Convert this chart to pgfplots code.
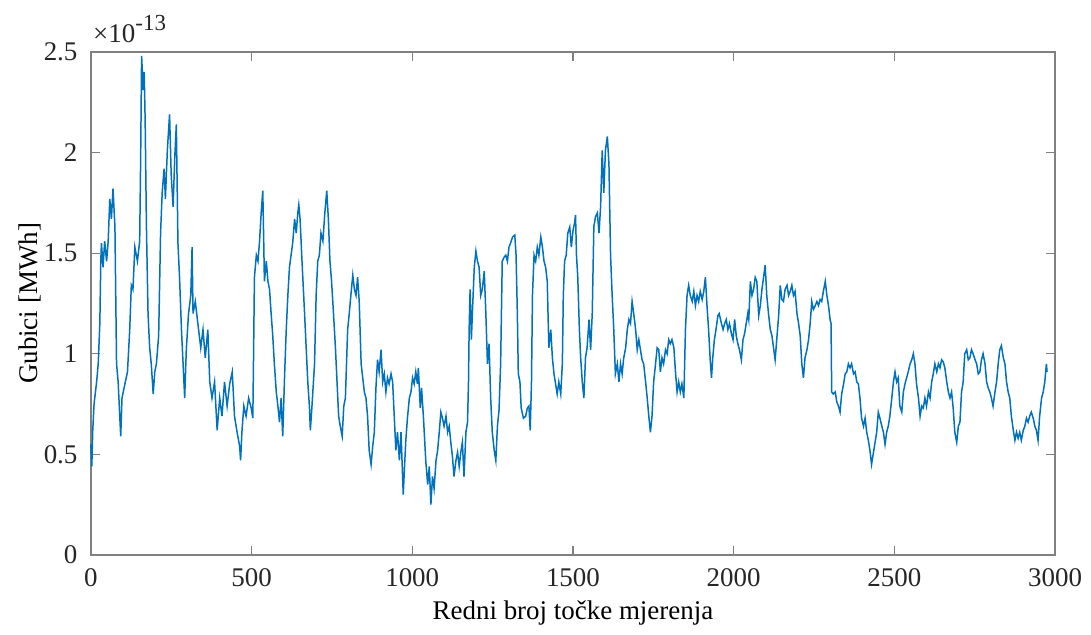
\documentclass[border=0pt]{standalone}
\usepackage{fontspec}
\setmainfont{Liberation Serif}
\usepackage{pgfplots}
\pgfplotsset{compat=1.18}

\definecolor{mblue}{rgb}{0,0.447,0.741}
\definecolor{axgray}{rgb}{0.5,0.5,0.5}
\definecolor{txt}{rgb}{0.15,0.15,0.15}

\begin{document}
\fontsize{13.5pt}{16pt}\selectfont
\begin{tikzpicture}
\begin{axis}[
    scale only axis,
    width=483pt, height=252pt,
    xmin=0, xmax=3000,
    ymin=0, ymax=2.5,
    xtick={0,500,1000,1500,2000,2500,3000},
    ytick={0,0.5,1,1.5,2,2.5},
    yticklabels={0,0.5,1,1.5,2,2.5},
    scaled x ticks=false,
    /pgf/number format/1000 sep={},
    /pgf/number format/assume math mode=true,
    tick align=inside,
    major tick length=4.5pt,
    axis line style={axgray, line width=0.7pt},
    tick style={axgray, line width=0.6pt},
    ticklabel style={font=\fontsize{13.5pt}{16pt}\selectfont, text=txt},
    yticklabel style={anchor=east, xshift=-2pt},
    xticklabel style={anchor=north, yshift=-2pt},
    label style={font=\fontsize{13.5pt}{16pt}\selectfont, text=txt},
    every axis x label/.style={at={(axis description cs:0.5,-0.115)}, anchor=center},
    every axis y label/.style={at={(axis description cs:-0.063,0.5)}, rotate=90, anchor=center},
    xlabel={Redni broj točke mjerenja},
    ylabel={Gubici [MWh]},
    clip=false,
]
% values in units of 1e-13 MWh
\addplot[color=mblue, line width=0.75pt] coordinates {
(0,0.55) (3,0.44) (6,0.62) (10,0.75) (18,0.86) (23,0.95) (28,1.15) (31,1.46) (33,1.55) (38,1.43)
(43,1.56) (49,1.46) (54,1.56) (59,1.77) (64,1.67) (69,1.82) (75,1.63) (80,0.95) (85,0.86) (90,0.69)
(93,0.59) (97,0.78) (106,0.85) (114,0.91) (121,1.12) (126,1.34) (131,1.32) (137,1.53) (145,1.46) (152,1.56)
(155,1.97) (158,2.48) (163,2.31) (166,2.40) (169,2.16) (173,1.63) (178,1.20) (183,1.03) (188,0.95) (194,0.80)
(199,0.91) (204,0.95) (211,1.09) (217,1.60) (222,1.80) (228,1.92) (232,1.77) (238,2.01) (245,2.19) (250,1.89)
(256,1.73) (261,1.97) (266,2.14) (271,1.55) (276,1.38) (282,1.12) (287,0.95) (292,0.78) (297,1.02) (304,1.20)
(311,1.29) (315,1.53) (318,1.20) (325,1.26) (333,1.15) (342,1.03) (349,1.12) (356,0.98) (364,1.12) (370,0.86)
(377,0.78) (385,0.86) (393,0.62) (401,0.78) (408,0.69) (416,0.86) (424,0.74) (432,0.85) (440,0.91) (447,0.69)
(455,0.61) (463,0.54) (466,0.47) (470,0.61) (476,0.74) (483,0.69) (491,0.78) (499,0.73) (504,0.68)
(506,0.95) (509,1.38) (515,1.49) (520,1.46) (525,1.56) (530,1.70) (535,1.81) (538,1.55) (540,1.36) (546,1.46)
(551,1.36) (556,1.32) (561,1.20) (566,1.09) (571,0.95) (577,0.81) (582,0.74) (587,0.66) (592,0.78) (597,0.59)
(603,0.90) (608,1.12) (613,1.29) (618,1.43) (623,1.49) (628,1.55) (634,1.67) (639,1.60) (644,1.70) (647,1.74)
(651,1.67) (657,1.46) (665,1.20) (670,1.03) (675,0.86) (680,0.74) (683,0.62) (688,0.74) (696,0.95) (701,1.29)
(706,1.46) (711,1.49) (716,1.60) (722,1.56) (728,1.70) (734,1.81) (739,1.67) (744,1.46) (749,1.36) (755,1.20)
(761,1.03) (766,0.86) (771,0.69) (776,0.64) (782,0.59) (787,0.74) (792,0.78) (799,1.12) (804,1.20) (809,1.29)
(815,1.39) (820,1.32) (825,1.29) (830,1.38) (835,1.26) (841,0.95) (846,0.88) (851,0.81) (856,0.78) (861,0.69)
(866,0.52) (872,0.45) (877,0.54) (882,0.61) (887,0.83) (892,0.97) (897,0.91) (903,1.02) (908,0.86) (913,0.90)
(918,0.81) (923,0.88) (928,0.85) (934,0.90) (939,0.86) (944,0.69) (949,0.52) (954,0.61) (960,0.47) (965,0.61)
(970,0.39) (972,0.30) (976,0.44) (980,0.57) (985,0.68) (991,0.78) (996,0.81) (1001,0.88) (1006,0.85) (1011,0.91)
(1016,0.85) (1019,0.93) (1025,0.73) (1029,0.83) (1035,0.68) (1042,0.47) (1048,0.35) (1053,0.44) (1058,0.25) (1063,0.39)
(1068,0.33) (1074,0.47) (1079,0.52) (1084,0.61) (1089,0.71) (1094,0.68) (1099,0.64) (1105,0.69) (1110,0.61) (1115,0.64)
(1120,0.56) (1125,0.49) (1130,0.39) (1136,0.47) (1141,0.51) (1146,0.44) (1151,0.51) (1156,0.56) (1161,0.39) (1167,0.61)
(1172,0.66) (1175,0.86) (1177,1.12) (1180,1.32) (1184,1.07) (1187,1.20) (1193,1.43) (1198,1.51) (1203,1.46) (1208,1.43)
(1213,1.29) (1218,1.32) (1224,1.41) (1229,1.20) (1234,0.95) (1239,1.05) (1244,0.78) (1249,0.61) (1255,0.52) (1260,0.47)
(1265,0.64) (1270,0.72) (1275,0.95) (1280,1.46) (1286,1.48) (1291,1.49) (1296,1.46) (1301,1.53) (1306,1.55) (1312,1.58)
(1319,1.59) (1323,1.49) (1327,1.20) (1330,0.90) (1335,0.86) (1339,0.73) (1346,0.68) (1353,0.69) (1358,0.73) (1363,0.74)
(1367,0.62) (1371,0.86) (1374,1.29) (1379,1.49) (1384,1.46) (1389,1.53) (1394,1.49) (1400,1.58) (1405,1.53) (1410,1.46)
(1415,1.43) (1420,1.36) (1425,1.03) (1431,1.12) (1436,0.98) (1441,0.90) (1446,0.85) (1451,0.80) (1456,0.86) (1462,0.80)
(1467,0.95) (1470,1.29) (1474,1.46) (1479,1.49) (1484,1.60) (1490,1.63) (1495,1.53) (1500,1.61) (1505,1.65) (1508,1.69)
(1511,1.49) (1515,1.38) (1520,1.12) (1524,0.98) (1529,0.86) (1534,0.78) (1539,0.98) (1544,1.03) (1550,1.17) (1555,1.02)
(1560,1.20) (1565,1.63) (1570,1.68) (1576,1.70) (1581,1.60) (1586,1.73) (1591,2.01) (1596,1.80) (1601,2.01) (1607,2.08)
(1612,1.94) (1617,1.49) (1622,1.29) (1627,1.12) (1632,0.90) (1638,0.95) (1643,0.86) (1648,0.95) (1653,0.90) (1658,0.98)
(1664,1.03) (1669,1.12) (1674,1.17) (1679,1.15) (1684,1.26) (1689,1.20) (1695,1.12) (1700,1.02) (1705,1.07) (1710,1.02)
(1715,0.97) (1720,0.95) (1726,0.86) (1731,0.78) (1736,0.69) (1741,0.61) (1746,0.69) (1751,0.86) (1757,0.95) (1762,1.03)
(1767,1.02) (1772,0.91) (1777,0.98) (1782,0.95) (1788,1.02) (1793,1.00) (1798,1.07) (1803,1.05) (1808,1.07) (1814,1.03)
(1819,0.91) (1824,0.81) (1829,0.86) (1834,0.81) (1839,0.85) (1845,0.78) (1850,1.12) (1855,1.29) (1860,1.34) (1865,1.29)
(1871,1.26) (1876,1.31) (1881,1.24) (1886,1.29) (1891,1.26) (1896,1.31) (1902,1.27) (1907,1.31) (1912,1.38) (1917,1.24)
(1922,1.12) (1927,0.97) (1931,0.88) (1935,0.98) (1940,1.07) (1945,1.12) (1951,1.19) (1955,1.20) (1962,1.15) (1967,1.12)
(1972,1.15) (1977,1.17) (1982,1.12) (1987,1.15) (1993,1.10) (1998,1.07) (2003,1.17) (2008,1.09) (2013,1.05) (2018,1.02)
(2024,0.97) (2029,1.07) (2034,1.10) (2039,1.15) (2044,1.20) (2047,1.17) (2052,1.36) (2057,1.29) (2062,1.32) (2067,1.38)
(2072,1.36) (2078,1.19) (2083,1.24) (2088,1.32) (2093,1.38) (2098,1.44) (2103,1.29) (2109,1.19) (2114,1.12) (2119,1.09)
(2124,1.03) (2129,0.97) (2135,1.09) (2140,1.19) (2145,1.34) (2150,1.27) (2155,1.26) (2160,1.32) (2166,1.34) (2171,1.29)
(2176,1.31) (2181,1.34) (2186,1.29) (2191,1.31) (2197,1.20) (2202,1.15) (2207,1.09) (2212,0.95) (2217,0.88) (2222,0.98)
(2228,1.02) (2233,1.07) (2238,1.15) (2243,1.26) (2248,1.22) (2254,1.24) (2259,1.26) (2264,1.24) (2269,1.27) (2274,1.26)
(2279,1.31) (2285,1.36) (2290,1.29) (2295,1.24) (2300,1.17) (2303,1.15) (2305,0.81) (2310,0.80) (2316,0.81) (2321,0.76)
(2326,0.74) (2331,0.71) (2336,0.80) (2342,0.85) (2347,0.90) (2352,0.91) (2357,0.95) (2362,0.93) (2367,0.95) (2373,0.90)
(2378,0.91) (2383,0.86) (2388,0.85) (2393,0.78) (2398,0.68) (2404,0.64) (2409,0.68) (2414,0.61) (2419,0.57) (2424,0.52)
(2429,0.45) (2435,0.51) (2440,0.56) (2445,0.61) (2450,0.71) (2455,0.68) (2461,0.64) (2466,0.61) (2471,0.55) (2476,0.61)
(2481,0.64) (2486,0.69) (2492,0.78) (2497,0.86) (2502,0.91) (2507,0.86) (2512,0.88) (2517,0.74) (2523,0.71) (2528,0.81)
(2533,0.85) (2538,0.88) (2543,0.91) (2549,0.95) (2554,0.97) (2559,1.00) (2564,0.95) (2569,0.85) (2575,0.78) (2580,0.69)
(2585,0.74) (2590,0.73) (2595,0.78) (2600,0.74) (2606,0.81) (2611,0.78) (2616,0.86) (2621,0.90) (2626,0.95) (2632,0.91)
(2637,0.95) (2642,0.93) (2647,0.97) (2652,0.96) (2657,0.93) (2663,0.86) (2668,0.81) (2673,0.78) (2678,0.81) (2683,0.73)
(2688,0.61) (2694,0.56) (2699,0.64) (2704,0.66) (2709,0.81) (2714,0.86) (2719,1.00) (2725,1.02) (2730,0.97) (2735,0.98)
(2740,1.02) (2745,1.00) (2751,0.97) (2756,0.95) (2761,0.90) (2766,0.91) (2771,0.97) (2776,1.00) (2782,0.95) (2787,0.86)
(2792,0.83) (2797,0.81) (2802,0.78) (2807,0.74) (2813,0.81) (2818,0.86) (2823,0.95) (2828,1.02) (2833,1.04) (2839,0.98)
(2844,0.95) (2849,0.86) (2854,0.81) (2859,0.78) (2864,0.69) (2870,0.62) (2875,0.57) (2880,0.61) (2885,0.58) (2890,0.61)
(2895,0.57) (2901,0.62) (2906,0.64) (2911,0.68) (2916,0.66) (2921,0.69) (2926,0.71) (2932,0.68) (2937,0.64) (2942,0.62)
(2947,0.57) (2952,0.69) (2958,0.78) (2963,0.81) (2968,0.86) (2973,0.95) (2975,0.91)
};
\node[anchor=base west, text=txt, inner sep=0pt] at ([xshift=1pt, yshift=4.5pt]rel axis cs:0,1)
  {×10\raisebox{0.45em}{\fontsize{11.5pt}{13pt}\selectfont -13}};
\end{axis}
\path (current axis.south west) ++(-45.5pt,-39.5pt) rectangle ++(545.5pt,317.5pt);
\end{tikzpicture}
\end{document}
